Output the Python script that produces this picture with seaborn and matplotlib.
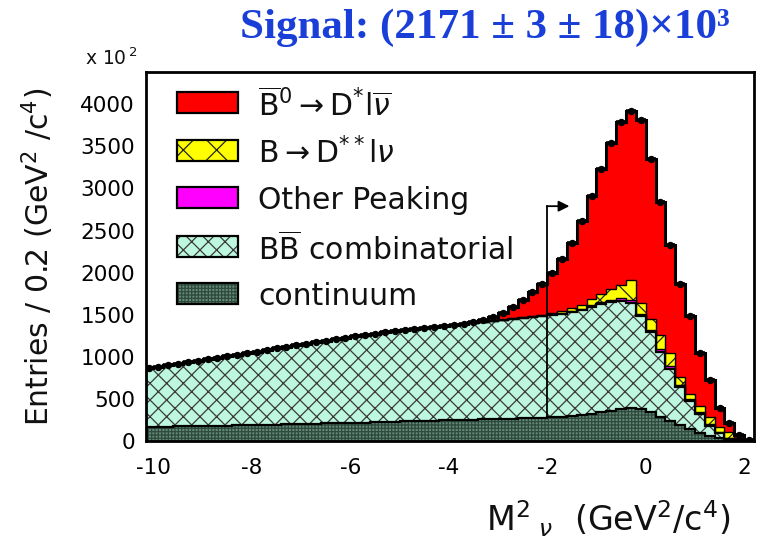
import numpy as np
import pandas as pd
import matplotlib
matplotlib.use("Agg")
import matplotlib.pyplot as plt
import matplotlib.colors as mcolors
from matplotlib.patches import Rectangle
from matplotlib.ticker import MultipleLocator
import seaborn as sns

# Missing-mass-squared binning: 0.2 GeV^2/c^4 wide bins
bin_edges = np.round(np.linspace(-10.2, 2.2, 63), 2)
bin_centers = np.round(0.5 * (bin_edges[:-1] + bin_edges[1:]), 2)

# Stacked components, entries per bin in units of 10^2 (bottom to top)
continuum = [165, 169, 170, 173, 174, 177, 178, 182, 183, 185,
             189, 190, 195, 196, 198, 203, 204, 206, 210, 212,
             214, 219, 220, 225, 226, 228, 233, 234, 239, 240,
             245, 246, 251,
             253, 256, 259, 262, 266, 270, 274, 279, 284, 290,
             298, 310, 325, 340, 358, 375, 392, 380, 340, 290,
             240, 190, 140, 100, 65, 35, 15, 5, 0]
bb_combinatorial = [700, 711, 730, 742, 761, 778, 792, 808, 822, 840,
                    856, 870, 885, 904, 917, 937, 951, 969, 980, 998,
                    1011, 1026, 1040, 1050, 1064, 1077, 1082, 1096, 1104, 1112,
                    1121, 1129, 1138,
                    1150, 1156, 1166, 1176, 1184, 1192, 1200, 1207, 1216, 1225,
                    1237, 1250, 1270, 1285, 1292, 1293, 1248, 1100, 950, 770,
                    620, 450, 330, 220, 115, 55, 15, 3, 0]
other_peaking = [0] * 33 + [0, 0, 0, 0, 0, 2, 3, 4, 5, 7,
                            10, 14, 18, 22, 26, 30, 32, 34, 34, 32,
                            30, 28, 25, 22, 18, 12, 8, 4, 2]
d_double_star = [0] * 33 + [0, 3, 5, 5, 7, 8, 10, 12, 15, 20,
                            30, 45, 70, 95, 125, 160, 238, 126, 126, 168,
                            150, 92, 65, 78, 92, 68, 72, 28, 8]
d_star_signal = [0] * 28 + [2, 3, 4, 5, 6] + [7, 20, 40, 77, 133, 198, 283, 358, 480, 618,
                                              775, 991, 1227, 1488, 1739, 1932, 2010, 2170, 1905, 1580,
                                              1290, 1110, 920, 630, 440, 220, 105, 35, 5]
data_entries = [865, 880, 900, 915, 935, 955, 970, 990, 1005, 1025,
                1045, 1060, 1080, 1100, 1115, 1140, 1155, 1175, 1190, 1210,
                1225, 1245, 1260, 1275, 1290, 1305, 1315, 1330, 1345, 1355,
                1370, 1380, 1395,
                1410, 1435, 1470, 1520, 1590, 1670, 1770, 1860, 2000, 2160,
                2350, 2610, 2910, 3230, 3540, 3790, 3920, 3810, 3355, 2840,
                2330, 1870, 1480, 1050, 730, 390, 215, 75, 15]

labels = [r"$\overline{\mathrm{B}}^{0}\rightarrow\mathrm{D}^{*}\mathrm{l}\overline{\nu}$",
          r"$\mathrm{B}\rightarrow\mathrm{D}^{**}\mathrm{l}\nu$",
          "Other Peaking",
          r"$\mathrm{B}\overline{\mathrm{B}}$ combinatorial",
          "continuum"]
fill_colors = ["#ff0000", "#ffff00", "#ff00ff", "#bdf7df", "#64897a"]
hatches = [None, "x", None, "xx", "+++++"]
hatch_colors = ["#000000", "#222222", "#000000", "#3a3a3a", "#2e4a3c"]

cut_m2 = -2.0
arrow_top = 2790
arrow_len = 0.45

sns.set_style("white")
plt.rcParams["font.family"] = ["DejaVu Sans"]
plt.rcParams["mathtext.fontset"] = "dejavusans"
plt.rcParams["axes.unicode_minus"] = False
plt.rcParams["hatch.linewidth"] = 0.9

fig = plt.figure(figsize=(7.57, 5.52), dpi=100)
ax = fig.add_axes([0.193, 0.201, 0.803, 0.668])

series = [d_star_signal, d_double_star, other_peaking, bb_combinatorial, continuum]
df = pd.concat([pd.DataFrame({"m2": bin_centers, "entries": vals, "component": lab})
                for lab, vals in zip(labels, series)], ignore_index=True)
palette = dict(zip(labels, fill_colors))

sns.histplot(data=df, x="m2", weights="entries", hue="component", hue_order=labels,
             multiple="stack", bins=[float(b) for b in bin_edges], element="step", fill=True,
             palette=palette, alpha=1, linewidth=0, legend=False, ax=ax)

# hatch the filled layers by their colour
for coll in ax.collections:
    fc = coll.get_facecolor()
    if len(fc) == 0:
        continue
    for col, hat, hc in zip(fill_colors, hatches, hatch_colors):
        if np.allclose(fc[0][:3], mcolors.to_rgb(col), atol=1e-3):
            if hat:
                coll.set_edgecolor(hc)
                coll.set_linewidth(0)
                coll.set_hatch(hat)

# outlines of each cumulative layer
stack = np.cumsum(np.array([continuum, bb_combinatorial, other_peaking,
                            d_double_star, d_star_signal], dtype=float), axis=0)
for k, lw in enumerate([1.6, 1.6, 1.0, 1.0, 2.2]):
    ax.stairs(stack[k], bin_edges, baseline=None, color="black", lw=lw, zorder=3)

# data points
ax.errorbar(bin_centers, data_entries, xerr=0.1, fmt="o", color="black",
            ms=4.3, elinewidth=2.6, capsize=0, zorder=4)

# selection cut marker
cut_base = np.interp(cut_m2, bin_centers, continuum)
ax.plot([cut_m2, cut_m2], [cut_base, arrow_top], color="black", lw=1.3, zorder=5)
ax.annotate("", xy=(cut_m2 + arrow_len, arrow_top), xytext=(cut_m2 - 0.01, arrow_top),
            arrowprops=dict(arrowstyle="-|>", color="black", lw=1.3,
                            mutation_scale=16, shrinkA=0, shrinkB=0), zorder=5)

# legend
box_x, box_w, box_h, text_x = 0.051, 0.100, 0.057, 0.184
row_y = [0.919, 0.789, 0.661, 0.528, 0.401]
for lab, col, hat, hc, y in zip(labels, fill_colors, hatches, hatch_colors, row_y):
    ax.add_patch(Rectangle((box_x, y - box_h / 2), box_w, box_h, transform=ax.transAxes,
                           facecolor=col, edgecolor=hc if hat else col, lw=0,
                           hatch=hat, zorder=6))
    ax.add_patch(Rectangle((box_x, y - box_h / 2), box_w, box_h, transform=ax.transAxes,
                           fill=False, edgecolor="black", lw=1.6, zorder=7))
    ax.text(text_x, y, lab, transform=ax.transAxes, fontsize=21.5,
            va="center_baseline", ha="left", color="#111111", zorder=7)

ax.set_xlim(-10.15, 2.2)
ax.set_ylim(0, 4380)
ax.xaxis.set_major_locator(MultipleLocator(2))
ax.xaxis.set_minor_locator(MultipleLocator(0.5))
ax.yaxis.set_major_locator(MultipleLocator(500))
ax.yaxis.set_minor_locator(MultipleLocator(250))
ax.tick_params(which="major", direction="in", length=8, width=1.2, labelsize=15.5,
               colors="black", pad=8, top=False, right=False)
ax.tick_params(axis="x", which="major", pad=12)
ax.tick_params(which="minor", direction="in", length=4, width=1.0, top=False, right=False)
ax.set_yticks(np.arange(0, 4001, 500))
for sp in ax.spines.values():
    sp.set_linewidth(2.0)
    sp.set_color("black")

ax.set_xlabel("")
ax.set_ylabel("")
fig.text(0.050, 0.535, r"Entries / 0.2 (GeV$^2$ /c$^4$)", rotation=90, fontsize=21.5,
         ha="center", va="center", color="#111111")
fig.text(0.965, 0.060, r"M$^{2}{}_{\ \nu}$  (GeV$^{2}$/c$^{4}$)", fontsize=24,
         ha="right", va="center", color="#111111")
fig.text(0.112, 0.895, r"x 10$^{\,2}$", fontsize=13.5, ha="left", va="center", color="#111111")
fig.text(0.641, 0.950, "Signal: (2171 \u00b1 3 \u00b1 18)\u00d710\u00b3",
         family=["Liberation Serif", "DejaVu Serif"], weight="bold", fontsize=31,
         color="#1a3fd8", ha="center", va="center")

fig.savefig("out.png", dpi=100)
